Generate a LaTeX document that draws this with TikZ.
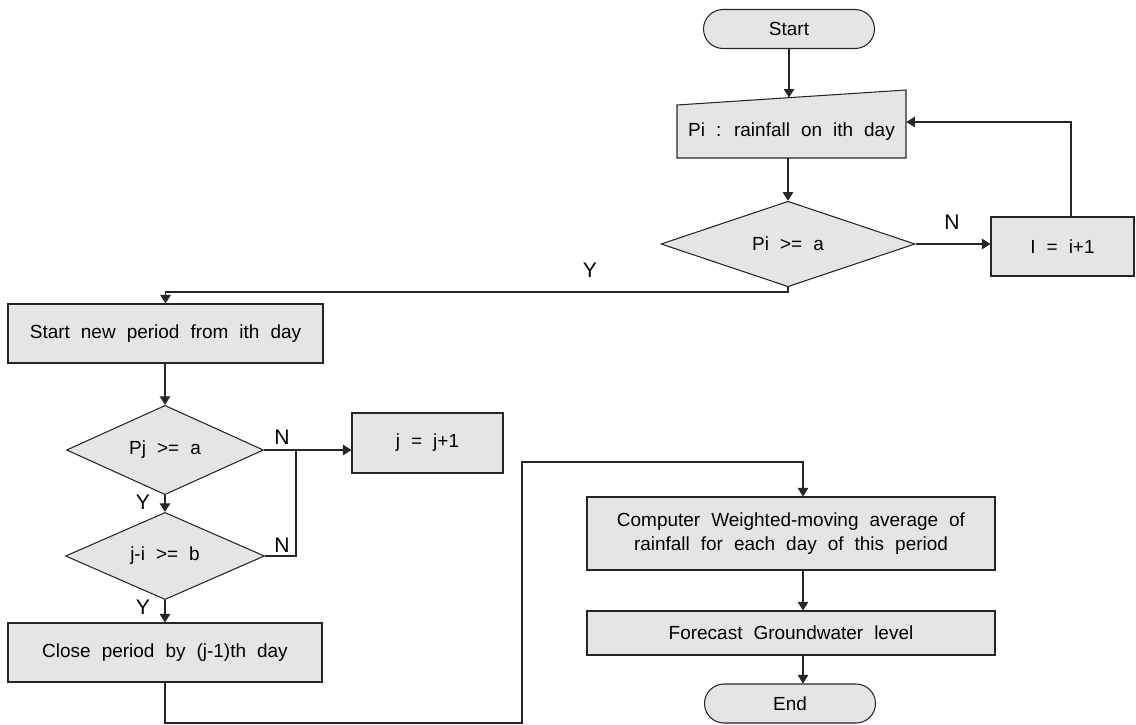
\documentclass[tikz,border=0pt]{standalone}
\usepackage{fontspec}
\setmainfont{Liberation Sans}
\usetikzlibrary{arrows.meta, shapes.geometric}
\newcommand\flowfont{\fontsize{10.8}{13.7}\selectfont\spaceskip=0.58em\relax}
\newcommand\yesnofont{\fontsize{12}{14}\selectfont}

\begin{document}
\begin{tikzpicture}[
	x=0.2mm, y=-0.2mm,
	base/.style = {draw=black!85, fill=black!10, line width=0.6pt, inner sep=0pt, align=center, font=\flowfont},
	box/.style = {base, rectangle},
	term/.style = {base, rectangle, rounded corners=3.9mm, minimum width=34.2mm, minimum height=7.8mm},
	dec/.style = {base, diamond},
	lbl/.style = {font=\yesnofont, inner sep=0pt},
	arr/.style = {draw=black!85, line width=0.6pt, -{Triangle[length=1.7mm, width=2.1mm]}},
	line/.style = {draw=black!85, line width=0.6pt}
	]
	\useasboundingbox (0,0) rectangle (1136,724);
%
	\node[term] (start) at (789,29) {Start};
	\filldraw[base] (677,158) -- (677,105) -- (906,90) -- (906,158) -- cycle;
	\node[font=\flowfont, minimum width=45.8mm, minimum height=10.6mm, inner sep=0pt] (pin) at (791.5,131.5) {Pi : rainfall on ith day};
	\node[dec, minimum width=50.8mm, minimum height=14.8mm] (dec1) at (788,244) {Pi >= a};
	\node[box, minimum width=28.6mm, minimum height=11.8mm] (inc) at (1062.5,246.5) {I = i+1};
%
	\node[box, minimum width=63mm, minimum height=11.8mm] (newp) at (165.5,333.5) {Start new period from ith day};
	\node[dec, minimum width=39.4mm, minimum height=14.8mm] (dec2) at (165,450) {Pj >= a};
	\node[box, minimum width=30.2mm, minimum height=12mm] (incj) at (427.5,443) {j = j+1};
	\node[dec, minimum width=39.8mm, minimum height=15mm] (dec3) at (165,556) {j-i >= b};
	\node[box, minimum width=62.8mm, minimum height=11.8mm] (close) at (165,652.5) {Close period by (j-1)th day};
%
	\node[box, minimum width=81.6mm, minimum height=14.6mm] (comp) at (791,533.5) {Computer Weighted-moving average of\\rainfall for each day of this period};
	\node[box, minimum width=81.6mm, minimum height=8.8mm] (fore) at (791,633) {Forecast Groundwater level};
	\node[term] (end) at (790,703.5) {End};
%
	\node[lbl] (n1) at (952,222) {N};
	\node[lbl] (y1) at (590,270) {Y};
	\node[lbl] (n2) at (282,437) {N};
	\node[lbl] (y2) at (143,502) {Y};
	\node[lbl] (n3) at (282,545) {N};
	\node[lbl] (y3) at (143,607) {Y};
%
	\coordinate (pintop) at (789,97.5);
	\coordinate (iup) at (1071,122);
	\coordinate (ymid) at (500,292);
	\coordinate (nj) at (296,450);
	\coordinate (lo) at (522,723);
	\coordinate (hi) at (803,462);
%
	\draw[arr] (start) -- (pintop);
	\draw[arr] (pin.south -| dec1.north) -- (dec1.north);
	\draw[arr] (dec1.east) -- (dec1.east -| inc.west);
	\draw[arr] (inc.north -| iup) |- (pin.east |- iup);
	\draw[arr] (dec1.south) |- (ymid) -| (newp.north);
%
	\draw[arr] (newp.south -| dec2.north) -- (dec2.north);
	\draw[arr] (dec2.east) -- (dec2.east -| incj.west);
	\draw[arr] (dec2.south) -- (dec3.north);
	\draw[line] (dec3.east) -| (nj);
	\draw[arr] (dec3.south) -- (close.north -| dec3.south);
%
	\draw[arr] (close.south -| dec3.south) |- (lo) |- (hi) -- (hi |- comp.north);
	\draw[arr] (comp.south -| hi) -- (fore.north -| hi);
	\draw[arr] (fore.south -| hi) -- (end.north -| hi);
\end{tikzpicture}
\end{document}
